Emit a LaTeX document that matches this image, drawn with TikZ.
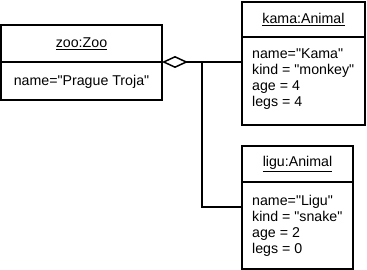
\documentclass[tikz,border=0pt]{standalone}
\usepackage{fontspec}
\setmainfont{Liberation Sans}[Ligatures=TeXOff]
\usetikzlibrary{arrows.meta}
\begin{document}
\begin{tikzpicture}[x=1pt,y=-1pt,
  box/.style={draw,line width=2pt,inner sep=0pt,outer sep=0pt,anchor=north west},
  txt/.style={font=\fontsize{14.2}{16}\selectfont,inner sep=0pt},
  attrs/.style={txt,align=left,anchor=north west},
  link/.style={line width=2pt}]
\useasboundingbox (0,0) rectangle (367,270);

% zoo object
\node[box,minimum width=161pt,minimum height=37pt] (zooHead) at (1,25) {};
\node[box,minimum width=161pt,minimum height=38pt] (zooBody) at (1,62) {};
\node[txt] (zooTitle) at (zooHead.center) {\underline{zoo:Zoo}};
\node[txt] (zooAttrs) at ([yshift=-1pt]zooBody.center) {name="Prague Troja"};

% kama object
\node[box,minimum width=123pt,minimum height=35pt] (kamaHead) at (242,2) {};
\node[box,minimum width=123pt,minimum height=88pt] (kamaBody) at (242,37) {};
\node[txt] (kamaTitle) at (kamaHead.center) {\underline{kama:Animal}};
\node[attrs] (kamaAttrs) at (252,48.5) {name="Kama"\\kind = "monkey"\\age = 4\\legs = 4};

% ligu object
\node[box,minimum width=111pt,minimum height=36pt] (liguHead) at (242,146) {};
\node[box,minimum width=111pt,minimum height=87pt] (liguBody) at (242,182) {};
\node[txt] (liguTitle) at (liguHead.center) {\underline{ligu:Animal}};
\node[attrs] (liguAttrs) at (252,195.5) {name="Ligu"\\kind = "snake"\\age = 2\\legs = 0};

% aggregation links
\coordinate (fork) at (202,62);
\coordinate (bend) at (202,207);
\draw[link,{Diamond[open,length=26pt 0 0,width=12pt 0 0,line width=1.5pt]}-]
  (zooBody.north east) -- (kamaBody.west |- zooBody.north east);
\draw[link] (fork) -- (bend) -- (liguBody.west |- bend);
\end{tikzpicture}
\end{document}
